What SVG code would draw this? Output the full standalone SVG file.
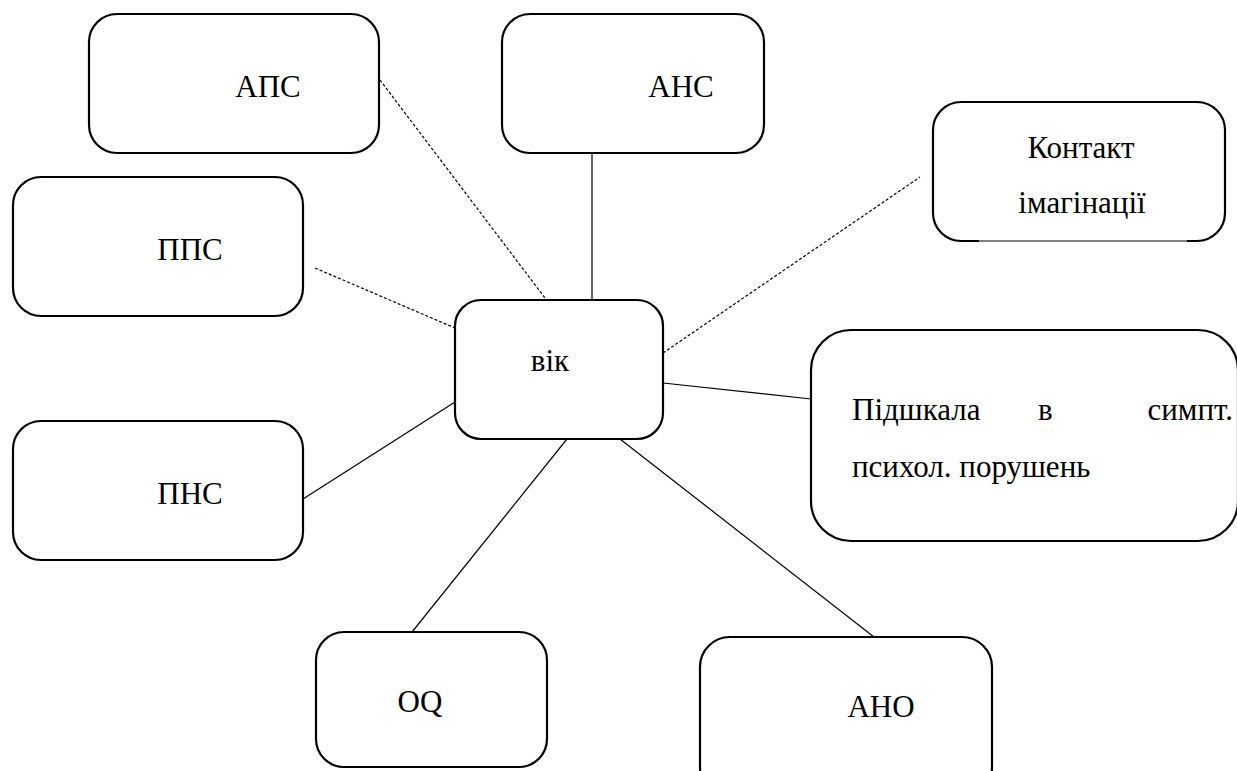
<svg xmlns="http://www.w3.org/2000/svg" width="1237" height="771" viewBox="0 0 1237 771">
  <style>
    .box { fill: #fff; stroke: #000; stroke-width: 2.2; }
    .lbl { font-family: 'Liberation Serif', 'Times New Roman', 'DejaVu Serif', serif; font-size: 31px; fill: #000; }
    .solid { stroke: #000; stroke-width: 1.2; fill: none; }
    .dash { stroke: #000; stroke-width: 1.2; fill: none; stroke-dasharray: 3 2; }
  </style>
  <rect width="1237" height="771" fill="#fff"/>

  <!-- links radiating from the central node -->
  <g id="connectors">
    <line class="dash" x1="380" y1="80" x2="545" y2="298"/>
    <line class="dash" x1="315" y1="268" x2="455" y2="328"/>
    <line class="solid" x1="592" y1="153" x2="592" y2="300"/>
    <line class="dash" x1="663" y1="353" x2="920" y2="177"/>
    <line class="solid" x1="663" y1="383" x2="811" y2="399"/>
    <line class="solid" x1="303" y1="499" x2="455" y2="402"/>
    <line class="solid" x1="567" y1="439" x2="408" y2="637"/>
    <line class="solid" x1="620" y1="439" x2="874" y2="637"/>
  </g>

  <g id="node-vik">
    <rect class="box" x="455" y="300" width="208" height="139" rx="26"/>
    <text class="lbl" x="550" y="371" text-anchor="middle" font-family="Liberation Serif, DejaVu Serif, serif">вік</text>
  </g>

  <g id="node-aps">
    <rect class="box" x="89" y="14" width="290" height="139" rx="28"/>
    <text class="lbl" x="268" y="97" text-anchor="middle">АПС</text>
  </g>

  <g id="node-pps">
    <rect class="box" x="13" y="177" width="290" height="139" rx="28"/>
    <text class="lbl" x="190" y="260" text-anchor="middle">ППС</text>
  </g>

  <g id="node-ans">
    <rect class="box" x="502" y="14" width="262" height="139" rx="28"/>
    <text class="lbl" x="681" y="97" text-anchor="middle">АНС</text>
  </g>

  <g id="node-kontakt">
    <path class="box" d="M979,241 L961,241 A28,28 0 0 1 933,213 L933,130 A28,28 0 0 1 961,102 L1197,102 A28,28 0 0 1 1225,130 L1225,213 A28,28 0 0 1 1197,241 L1187,241"/>
    <line x1="979" y1="241" x2="1187" y2="241" stroke="#000" stroke-width="1"/>
    <text class="lbl" x="1081" y="158" text-anchor="middle">Контакт</text>
    <text class="lbl" x="1082" y="213" text-anchor="middle">імагінації</text>
  </g>

  <g id="node-pidshkala">
    <rect class="box" x="811" y="330" width="427" height="211" rx="40"/>
    <text class="lbl" x="852" y="420">Підшкала</text>
    <text class="lbl" x="1038" y="420">в</text>
    <text class="lbl" x="1233" y="420" text-anchor="end">симпт.</text>
    <text class="lbl" x="852" y="477">психол. порушень</text>
  </g>

  <g id="node-pns">
    <rect class="box" x="13" y="421" width="290" height="139" rx="28"/>
    <text class="lbl" x="190" y="504" text-anchor="middle">ПНС</text>
  </g>

  <g id="node-oq">
    <rect class="box" x="316" y="632" width="231" height="135" rx="28"/>
    <text class="lbl" x="420" y="712" text-anchor="middle">OQ</text>
  </g>

  <g id="node-ano">
    <rect class="box" x="700" y="637" width="292" height="160" rx="30"/>
    <text class="lbl" x="881" y="717" text-anchor="middle">АНО</text>
  </g>
</svg>
